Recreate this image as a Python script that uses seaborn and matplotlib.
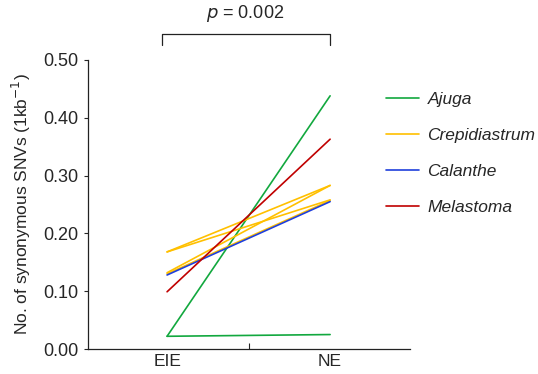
import matplotlib
matplotlib.use('Agg')
import matplotlib.pyplot as plt
import seaborn as sns
import pandas as pd

sns.set_style("ticks")
plt.rcParams['font.family'] = ['Liberation Sans', 'DejaVu Sans']

groups = ['EIE', 'NE']
genus = ['Ajuga', 'Ajuga', 'Crepidiastrum', 'Crepidiastrum', 'Crepidiastrum', 'Crepidiastrum',
         'Calanthe', 'Melastoma']
eie = [0.022, 0.022, 0.168, 0.168, 0.132, 0.130, 0.128, 0.099]
ne = [0.438, 0.025, 0.283, 0.258, 0.283, 0.257, 0.255, 0.363]
colors = {'Ajuga': '#12a83e', 'Crepidiastrum': '#ffc000',
          'Calanthe': '#1f3fdc', 'Melastoma': '#c00000'}

rows = []
for i in range(len(genus)):
    rows.append({'id': i, 'Genus': genus[i], 'Group': groups[0], 'SNV': eie[i]})
    rows.append({'id': i, 'Genus': genus[i], 'Group': groups[1], 'SNV': ne[i]})
df = pd.DataFrame(rows)

fig = plt.figure(figsize=(5.38, 3.74), dpi=100)
ax = fig.add_axes([88 / 538, 25 / 374, 322 / 538, 289 / 374])

sns.lineplot(data=df, x='Group', y='SNV', hue='Genus', units='id', estimator=None,
             palette=colors, hue_order=list(colors), linewidth=1.2, ax=ax)

ax.set_xlim(-0.485, 1.49)
ax.set_ylim(0, 0.5)
ax.set_yticks([0, 0.1, 0.2, 0.3, 0.4, 0.5])
ax.set_yticklabels(['0.00', '0.10', '0.20', '0.30', '0.40', '0.50'], fontsize=13)
ax.set_xticks([0, 1])
ax.set_xticklabels(groups, fontsize=12.5)
ax.set_xticks([0.5], minor=True)
ax.tick_params(axis='x', which='major', length=0, pad=3.5)
ax.tick_params(axis='x', which='minor', length=4, direction='in', width=0.8)
ax.tick_params(axis='y', length=3, width=0.8, pad=4)
ax.set_xlabel('')
ax.set_ylabel('No. of synonymous SNVs (1kb$^{-1}$)', fontsize=12.5, labelpad=7)
sns.despine(ax=ax)
for s in ['left', 'bottom']:
    ax.spines[s].set_linewidth(0.9)
    ax.spines[s].set_color('#222222')

# significance bracket
ax.plot([-0.03, -0.03, 1.0, 1.0], [0.526, 0.545, 0.545, 0.526], color='#222222',
        lw=0.9, clip_on=False)
ax.text(0.48, 0.562, '$p$ = 0.002', ha='center', va='bottom', fontsize=13)

handles, labels = ax.get_legend_handles_labels()
leg = ax.legend(handles, labels, loc='upper left', bbox_to_anchor=(0.925, 0.89),
                frameon=False, handlelength=1.9, handletextpad=0.5,
                labelspacing=1.2, fontsize=12.5, borderpad=0, borderaxespad=0)
for t in leg.get_texts():
    t.set_fontstyle('italic')

fig.savefig('out.png', dpi=100)
